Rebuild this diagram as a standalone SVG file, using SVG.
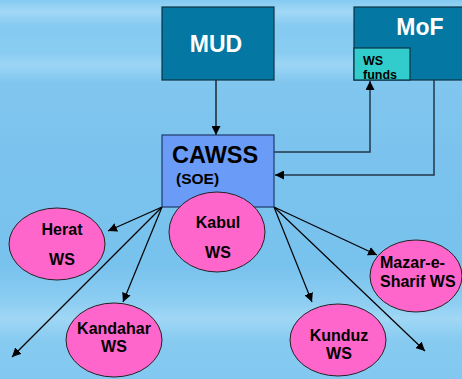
<svg xmlns="http://www.w3.org/2000/svg" width="462" height="379" viewBox="0 0 462 379">
<defs>
<linearGradient id="bg" x1="0" y1="0" x2="0" y2="1">
<stop offset="0" stop-color="#84CAF1"/>
<stop offset="0.03" stop-color="#A2D8F6"/>
<stop offset="0.07" stop-color="#84CAF1"/>
<stop offset="0.14" stop-color="#8ACDF2"/>
<stop offset="0.17" stop-color="#9DD5F5"/>
<stop offset="0.22" stop-color="#80C6EF"/>
<stop offset="0.4" stop-color="#7BC3EE"/>
<stop offset="0.7" stop-color="#78C2EE"/>
<stop offset="0.8" stop-color="#8ECEF2"/>
<stop offset="0.84" stop-color="#A0D7F5"/>
<stop offset="0.9" stop-color="#86CAF0"/>
<stop offset="1" stop-color="#82C8F0"/>
</linearGradient>
<marker id="ah" viewBox="0 0 10 10" refX="10" refY="5" markerWidth="9" markerHeight="9" markerUnits="userSpaceOnUse" orient="auto">
<path d="M0,0 L10,5 L0,10 z" fill="#000"/>
</marker>
<style>
.box{fill:#0478A2;stroke:#0B3446;stroke-width:1.2}
.cawss{fill:#6A9BF7;stroke:#1E3A6A;stroke-width:1.2}
.fund{fill:#33CCCC;stroke:#0B3446;stroke-width:1.2}
.ell{fill:#FF66CC;stroke:#222;stroke-width:1}
.wt{font-family:"Liberation Sans",Arial,sans-serif;font-weight:bold;fill:#fff;font-size:23px;text-anchor:middle}
.bt{font-family:"Liberation Sans",Arial,sans-serif;font-weight:bold;fill:#000;font-size:16px;text-anchor:middle}
.conn{stroke:#000;stroke-width:1.2;fill:none}
.conn2{stroke:#22384A;stroke-width:1.5;fill:none}
</style>
</defs>
<rect width="462" height="379" fill="url(#bg)"/>
<g id="connectors">
<line class="conn" x1="216" y1="80" x2="216" y2="135" marker-end="url(#ah)"/>
<polyline class="conn2" points="274,152 370,152 370,81" marker-end="url(#ah)"/>
<polyline class="conn2" points="434,80 434,175 275,175" marker-end="url(#ah)"/>
<line class="conn" x1="162" y1="207" x2="108" y2="231" marker-end="url(#ah)"/>
<line class="conn" x1="162" y1="207" x2="12" y2="357" marker-end="url(#ah)"/>
<line class="conn" x1="162" y1="207" x2="123" y2="302" marker-end="url(#ah)"/>
<line class="conn" x1="274" y1="207" x2="377" y2="255" marker-end="url(#ah)"/>
<line class="conn" x1="274" y1="207" x2="312" y2="302" marker-end="url(#ah)"/>
<line class="conn" x1="274" y1="207" x2="425" y2="351" marker-end="url(#ah)"/>
</g>
<g id="MUD">
<rect class="box" x="162" y="7" width="112" height="73"/>
<text class="wt" x="216" y="52">MUD</text>
</g>
<g id="MoF">
<rect class="box" x="354" y="7" width="112" height="73"/>
<text class="wt" x="420" y="35">MoF</text>
</g>
<g id="WSfunds">
<rect class="fund" x="354" y="48" width="56" height="32"/>
<text class="bt" style="font-size:12.5px;text-anchor:start" x="363" y="65">WS</text>
<text class="bt" style="font-size:12.5px;text-anchor:start" x="363" y="79">funds</text>
</g>
<g id="CAWSS">
<rect class="cawss" x="162" y="135" width="112" height="72"/>
<text class="bt" style="font-size:23.5px;text-anchor:start" x="172" y="163">CAWSS</text>
<text class="bt" style="font-size:15.5px;text-anchor:start" x="176" y="184">(SOE)</text>
</g>
<g id="Kabul">
<ellipse class="ell" cx="217" cy="232" rx="48" ry="40"/>
<text class="bt" x="218" y="228">Kabul</text>
<text class="bt" x="218" y="258">WS</text>
</g>
<g id="Herat">
<ellipse class="ell" cx="57" cy="244" rx="48" ry="36"/>
<text class="bt" x="62" y="235">Herat</text>
<text class="bt" x="62" y="265">WS</text>
</g>
<g id="Kandahar">
<ellipse class="ell" cx="114" cy="340" rx="48" ry="37"/>
<text class="bt" x="114" y="334">Kandahar</text>
<text class="bt" x="114" y="352">WS</text>
</g>
<g id="Kunduz">
<ellipse class="ell" cx="338" cy="340" rx="48" ry="36"/>
<text class="bt" x="339" y="341">Kunduz</text>
<text class="bt" x="339" y="359">WS</text>
</g>
<g id="Mazar">
<ellipse class="ell" cx="416" cy="276" rx="46" ry="36"/>
<text class="bt" style="text-anchor:start" x="380" y="268">Mazar-e-</text>
<text class="bt" style="text-anchor:start" x="380" y="287">Sharif WS</text>
</g>
</svg>
